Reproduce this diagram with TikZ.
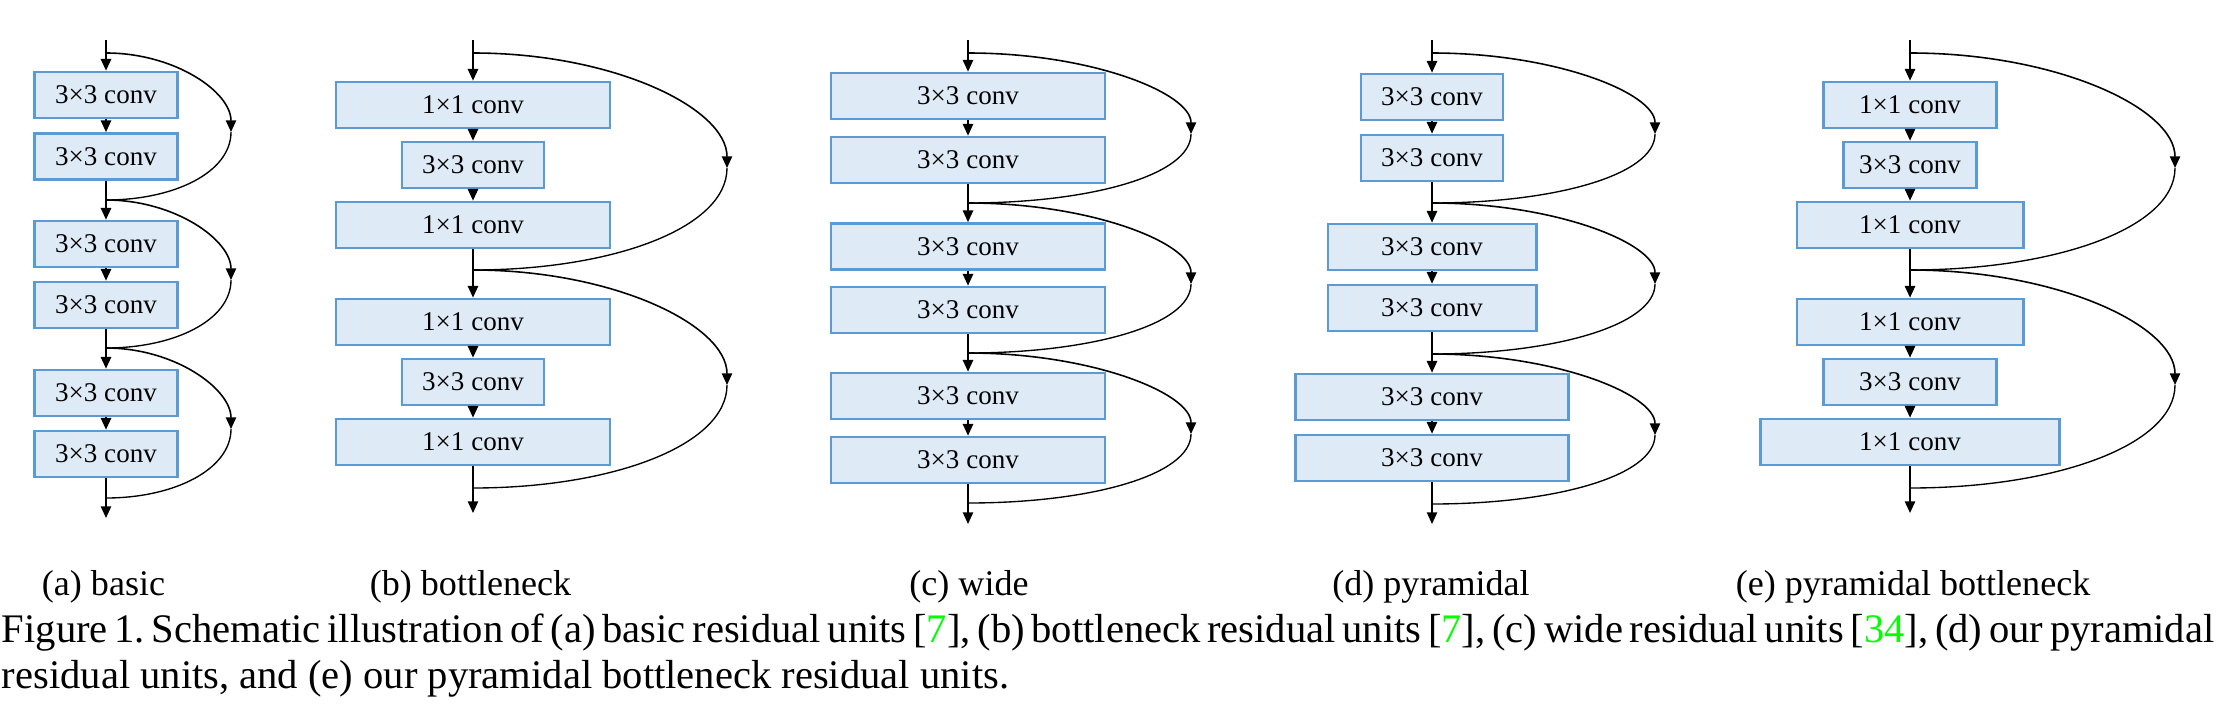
\documentclass[tikz,border=0pt]{standalone}
\usepackage{fontspec}
\setmainfont{Liberation Serif}
\usepackage{xcolor}
\usepackage{tikz}
\usetikzlibrary{arrows.meta,positioning,calc}
\definecolor{convfill}{RGB}{222,235,247}
\definecolor{convline}{RGB}{91,155,213}
\definecolor{citegreen}{RGB}{0,255,0}
\frenchspacing

\begin{document}
\begin{tikzpicture}[x=0.0078cm,y=-0.0078cm,
  conv/.style={draw=convline,fill=convfill,line width=0.6pt,minimum height=10.2pt,inner sep=0pt,font=\fontsize{6}{7}\selectfont},
  flow/.style={line width=0.35pt,-{Triangle[width=2.3pt,length=2.6pt]}},
  skip/.style={line width=0.3pt},
  sublabel/.style={anchor=base,inner sep=0pt,font=\fontsize{8}{9.6}\selectfont}]
\useasboundingbox (0,0) rectangle (2220,718);

% (a) basic
\coordinate (aIn) at (106,40); \coordinate (aS1) at (106,53);
\node[conv,minimum width=31.7pt] (a1) at (106,95) {3×3 conv};
\node[conv,minimum width=31.7pt] (a2) at (106,156.5) {3×3 conv};
\coordinate (aS2) at (106,200);
\node[conv,minimum width=31.7pt] (a3) at (106,244) {3×3 conv};
\node[conv,minimum width=31.7pt] (a4) at (106,305) {3×3 conv};
\coordinate (aS3) at (106,348);
\node[conv,minimum width=31.7pt] (a5) at (106,393) {3×3 conv};
\node[conv,minimum width=31.7pt] (a6) at (106,454) {3×3 conv};
\coordinate (aS4) at (106,498); \coordinate (aOut) at (106,518);
\coordinate (aR1) at (231,132); \coordinate (aR2) at (231,280); \coordinate (aR3) at (231,429);
\draw[flow] (aIn) -- (a1); \draw[flow] (a1) -- (a2); \draw[flow] (a2) -- (a3);
\draw[flow] (a3) -- (a4); \draw[flow] (a4) -- (a5); \draw[flow] (a5) -- (a6);
\draw[flow] (a6) -- (aOut);
\draw[skip,flow] (aS1) .. controls +(69,0) and +(0,-40) .. (aR1);
\draw[skip] (aR1) .. controls +(0,40) and +(69,0) .. (aS2);
\draw[skip,flow] (aS2) .. controls +(69,0) and +(0,-40) .. (aR2);
\draw[skip] (aR2) .. controls +(0,40) and +(69,0) .. (aS3);
\draw[skip,flow] (aS3) .. controls +(69,0) and +(0,-40) .. (aR3);
\draw[skip] (aR3) .. controls +(0,40) and +(69,0) .. (aS4);

% (b) bottleneck
\coordinate (bIn) at (473,40); \coordinate (bS1) at (473,53);
\node[conv,minimum width=60.8pt] (b1) at (473,105) {1×1 conv};
\node[conv,minimum width=31.5pt] (b2) at (473,165) {3×3 conv};
\node[conv,minimum width=60.8pt] (b3) at (473,225) {1×1 conv};
\coordinate (bS2) at (473,270);
\node[conv,minimum width=60.8pt] (b4) at (473,322) {1×1 conv};
\node[conv,minimum width=31.5pt] (b5) at (473,382) {3×3 conv};
\node[conv,minimum width=60.8pt] (b6) at (473,442) {1×1 conv};
\coordinate (bS3) at (473,488); \coordinate (bOut) at (473,513);
\coordinate (bR1) at (727,168); \coordinate (bR2) at (727,385);
\draw[flow] (bIn) -- (b1); \draw[flow] (b1) -- (b2); \draw[flow] (b2) -- (b3);
\draw[flow] (b3) -- (b4); \draw[flow] (b4) -- (b5); \draw[flow] (b5) -- (b6);
\draw[flow] (b6) -- (bOut);
\draw[skip,flow] (bS1) .. controls +(140,0) and +(0,-60) .. (bR1);
\draw[skip] (bR1) .. controls +(0,60) and +(140,0) .. (bS2);
\draw[skip,flow] (bS2) .. controls +(140,0) and +(0,-60) .. (bR2);
\draw[skip] (bR2) .. controls +(0,60) and +(140,0) .. (bS3);

% (c) wide
\coordinate (cIn) at (968,40); \coordinate (cS1) at (968,53);
\node[conv,minimum width=60.8pt] (c1) at (968,96) {3×3 conv};
\node[conv,minimum width=60.8pt] (c2) at (968,160) {3×3 conv};
\coordinate (cS2) at (968,203);
\node[conv,minimum width=60.8pt] (c3) at (968,246.5) {3×3 conv};
\node[conv,minimum width=60.8pt] (c4) at (968,310) {3×3 conv};
\coordinate (cS3) at (968,353);
\node[conv,minimum width=60.8pt] (c5) at (968,396) {3×3 conv};
\node[conv,minimum width=60.8pt] (c6) at (968,460) {3×3 conv};
\coordinate (cS4) at (968,503); \coordinate (cOut) at (968,524);
\coordinate (cR1) at (1191,134); \coordinate (cR2) at (1191,284); \coordinate (cR3) at (1191,434);
\draw[flow] (cIn) -- (c1); \draw[flow] (c1) -- (c2); \draw[flow] (c2) -- (c3);
\draw[flow] (c3) -- (c4); \draw[flow] (c4) -- (c5); \draw[flow] (c5) -- (c6);
\draw[flow] (c6) -- (cOut);
\draw[skip,flow] (cS1) .. controls +(123,0) and +(0,-41) .. (cR1);
\draw[skip] (cR1) .. controls +(0,41) and +(123,0) .. (cS2);
\draw[skip,flow] (cS2) .. controls +(123,0) and +(0,-41) .. (cR2);
\draw[skip] (cR2) .. controls +(0,41) and +(123,0) .. (cS3);
\draw[skip,flow] (cS3) .. controls +(123,0) and +(0,-41) .. (cR3);
\draw[skip] (cR3) .. controls +(0,41) and +(123,0) .. (cS4);

% (d) pyramidal
\coordinate (dIn) at (1432,40); \coordinate (dS1) at (1432,53);
\node[conv,minimum width=31.5pt] (d1) at (1432,97) {3×3 conv};
\node[conv,minimum width=31.5pt] (d2) at (1432,158) {3×3 conv};
\coordinate (dS2) at (1432,203);
\node[conv,minimum width=46.2pt] (d3) at (1432,247) {3×3 conv};
\node[conv,minimum width=46.2pt] (d4) at (1432,308) {3×3 conv};
\coordinate (dS3) at (1432,354);
\node[conv,minimum width=60.6pt] (d5) at (1432,397) {3×3 conv};
\node[conv,minimum width=60.6pt] (d6) at (1432,458) {3×3 conv};
\coordinate (dS4) at (1432,504); \coordinate (dOut) at (1432,524);
\coordinate (dR1) at (1655,134); \coordinate (dR2) at (1655,284); \coordinate (dR3) at (1655,435);
\draw[flow] (dIn) -- (d1); \draw[flow] (d1) -- (d2); \draw[flow] (d2) -- (d3);
\draw[flow] (d3) -- (d4); \draw[flow] (d4) -- (d5); \draw[flow] (d5) -- (d6);
\draw[flow] (d6) -- (dOut);
\draw[skip,flow] (dS1) .. controls +(123,0) and +(0,-41) .. (dR1);
\draw[skip] (dR1) .. controls +(0,41) and +(123,0) .. (dS2);
\draw[skip,flow] (dS2) .. controls +(123,0) and +(0,-41) .. (dR2);
\draw[skip] (dR2) .. controls +(0,41) and +(123,0) .. (dS3);
\draw[skip,flow] (dS3) .. controls +(123,0) and +(0,-41) .. (dR3);
\draw[skip] (dR3) .. controls +(0,41) and +(123,0) .. (dS4);

% (e) pyramidal bottleneck
\coordinate (eIn) at (1910,40); \coordinate (eS1) at (1910,53);
\node[conv,minimum width=38.4pt] (e1) at (1910,105) {1×1 conv};
\node[conv,minimum width=29.5pt] (e2) at (1910,165) {3×3 conv};
\node[conv,minimum width=50.2pt] (e3) at (1910,225) {1×1 conv};
\coordinate (eS2) at (1910,270);
\node[conv,minimum width=50.2pt] (e4) at (1910,322) {1×1 conv};
\node[conv,minimum width=38.4pt] (e5) at (1910,382) {3×3 conv};
\node[conv,minimum width=66.4pt] (e6) at (1910,442) {1×1 conv};
\coordinate (eS3) at (1910,488); \coordinate (eOut) at (1910,513);
\coordinate (eR1) at (2175,168); \coordinate (eR2) at (2175,385);
\draw[flow] (eIn) -- (e1); \draw[flow] (e1) -- (e2); \draw[flow] (e2) -- (e3);
\draw[flow] (e3) -- (e4); \draw[flow] (e4) -- (e5); \draw[flow] (e5) -- (e6);
\draw[flow] (e6) -- (eOut);
\draw[skip,flow] (eS1) .. controls +(146,0) and +(0,-60) .. (eR1);
\draw[skip] (eR1) .. controls +(0,60) and +(146,0) .. (eS2);
\draw[skip,flow] (eS2) .. controls +(146,0) and +(0,-60) .. (eR2);
\draw[skip] (eR2) .. controls +(0,60) and +(146,0) .. (eS3);

% Sub-captions
\node[sublabel] (la) at (103.5,595) {(a) basic};
\node[sublabel] (lb) at (470.5,595) {(b) bottleneck};
\node[sublabel] (lc) at (969,595) {(c) wide};
\node[sublabel] (ld) at (1431,595) {(d) pyramidal};
\node[sublabel] (le) at (1913,595) {(e) pyramidal bottleneck};

% Caption
\node[anchor=base west,inner sep=0pt,font=\fontsize{9}{10.2}\selectfont] (cap1) at (1,642)
  {\hbox to 489.5pt{Figure 1. Schematic illustration of (a) basic residual units [{\color{citegreen}7}], (b) bottleneck residual units [{\color{citegreen}7}], (c) wide residual units [{\color{citegreen}34}], (d) our pyramidal}};
\node[anchor=base west,inner sep=0pt,font=\fontsize{9}{10.2}\selectfont] (cap2) at (1,688)
  {residual units, and (e) our pyramidal bottleneck residual units.};
\end{tikzpicture}
\end{document}
